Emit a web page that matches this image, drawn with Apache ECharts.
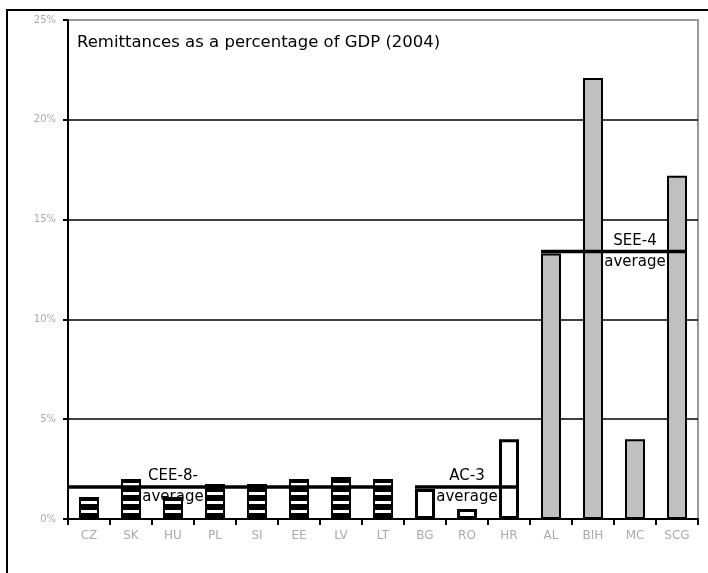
<!DOCTYPE html>
<html>
<head>
<meta charset="utf-8">
<title>Remittances as a percentage of GDP (2004)</title>
<script src="https://cdn.jsdelivr.net/npm/echarts@6/dist/echarts.min.js"></script>
<style>
  html, body { margin: 0; padding: 0; background: #fff; }
  #chart { width: 708px; height: 573px; }
</style>
</head>
<body>
<div id="chart"></div>
<script>
// Countries on the category axis
const categories = ['CZ', 'SK', 'HU', 'PL', 'SI', 'EE', 'LV', 'LT', 'BG', 'RO', 'HR', 'AL', 'BIH', 'MC', 'SCG'];
// Remittances, % of GDP (2004)
const remittances = [1.1, 2.0, 1.1, 1.75, 1.75, 2.0, 2.1, 2.0, 1.5, 0.5, 4.0, 13.3, 22.1, 4.0, 17.2];
// Country group of each category
const countryGroup = ['CEE-8', 'CEE-8', 'CEE-8', 'CEE-8', 'CEE-8', 'CEE-8', 'CEE-8', 'CEE-8',
                      'AC-3', 'AC-3', 'AC-3',
                      'SEE-4', 'SEE-4', 'SEE-4', 'SEE-4'];
// Group averages and the category each label sits over
const groupNames = ['CEE-8', 'AC-3', 'SEE-4'];
const groupAverages = [1.6, 1.6, 13.4];
const groupLabels = ['CEE-8-\naverage', 'AC-3\naverage', 'SEE-4\naverage'];
const groupLabelAt = ['HU', 'RO', 'MC'];
// Value axis ticks (%)
const yTicks = [0, 5, 10, 15, 20, 25];

// Horizontal stripe fill for the CEE-8 bars
function stripePattern() {
  const c = document.createElement('canvas');
  c.width = 4; c.height = 9;
  const ctx = c.getContext('2d');
  ctx.fillStyle = '#000';
  ctx.fillRect(0, 0, 4, 9);
  ctx.fillStyle = '#fff';
  ctx.fillRect(0, 6, 4, 3);
  return c;
}

const groupStyles = {
  'CEE-8': { color: { image: stripePattern(), repeat: 'repeat' }, borderColor: '#000', borderWidth: 2 },
  'AC-3':  { color: '#fff', borderColor: '#000', borderWidth: 3 },
  'SEE-4': { color: '#c0c0c0', borderColor: '#000', borderWidth: 2 }
};

const barData = remittances.map((v, i) => ({ value: v, itemStyle: groupStyles[countryGroup[i]] }));

// Average line spans: first/last category index of each group
const spans = groupNames.map(g => [countryGroup.indexOf(g), countryGroup.lastIndexOf(g)]);
const lineData = groupNames.map((g, k) => [spans[k][0], groupAverages[k], spans[k][1], k === 0 ? 1 : 0]);
const labelData = groupNames.map((g, k) => [categories.indexOf(groupLabelAt[k]), groupAverages[k], k]);

const BAR_W = 20;

const chart = echarts.init(document.getElementById('chart'), null, { renderer: 'canvas' });

chart.setOption({
  animation: false,
  backgroundColor: '#fff',
  title: {
    text: 'Remittances as a percentage of GDP (2004)',
    left: 77,
    top: 34,
    padding: 0,
    textStyle: { fontFamily: 'DejaVu Sans', fontSize: 16.5, fontWeight: 'normal', color: '#000' }
  },
  graphic: [
    { type: 'line', shape: { x1: 6, y1: 10, x2: 708, y2: 10 }, style: { stroke: '#000', lineWidth: 2 }, z: 10 },
    { type: 'line', shape: { x1: 7, y1: 10, x2: 7, y2: 573 }, style: { stroke: '#000', lineWidth: 2 }, z: 10 }
  ],
  grid: {
    left: 68, right: 10, top: 20, bottom: 54,
    show: true, borderColor: '#999', borderWidth: 2, backgroundColor: 'transparent'
  },
  xAxis: {
    type: 'category',
    data: categories,
    boundaryGap: true,
    axisLine: { lineStyle: { color: '#000', width: 2 } },
    axisTick: { show: true, length: 6, inside: false, lineStyle: { color: '#000', width: 2 } },
    axisLabel: { color: '#aaa', fontFamily: 'DejaVu Sans', fontSize: 12, margin: 11 },
    splitLine: { show: false }
  },
  yAxis: {
    type: 'value',
    min: yTicks[0],
    max: yTicks[yTicks.length - 1],
    interval: yTicks[1] - yTicks[0],
    axisLine: { show: true, lineStyle: { color: '#000', width: 2 } },
    axisTick: { show: true, length: 5, lineStyle: { color: '#000', width: 2 } },
    axisLabel: { color: '#aaa', fontFamily: 'DejaVu Sans', fontSize: 10, margin: 12, formatter: '{value}%' },
    splitLine: { show: true, lineStyle: { color: ['#000', '#000', '#000', '#000', '#000', '#999'], width: 1.6 } }
  },
  series: [
    {
      // Group labels, drawn beneath the bars
      type: 'custom',
      z: 1,
      data: labelData,
      encode: { x: 0, y: 1 },
      renderItem: function (params, api) {
        const p = api.coord([api.value(0), api.value(1)]);
        return {
          type: 'text',
          x: p[0],
          y: p[1],
          style: {
            text: groupLabels[api.value(2)],
            align: 'center',
            verticalAlign: 'middle',
            fontFamily: 'DejaVu Sans',
            fontSize: 15,
            lineHeight: 21,
            fill: '#000'
          }
        };
      }
    },
    {
      type: 'bar',
      z: 2,
      barWidth: BAR_W,
      data: barData
    },
    {
      // Group average lines, drawn over the bars
      type: 'custom',
      z: 3,
      data: lineData,
      encode: { x: [0, 2], y: 1 },
      renderItem: function (params, api) {
        const a = api.coord([api.value(0), api.value(1)]);
        const b = api.coord([api.value(2), api.value(1)]);
        const band = api.size([1, 0])[0];
        const half = BAR_W / 2;
        const x1 = api.value(3) ? a[0] - band / 2 : a[0] - half;
        const x2 = b[0] + half;
        return {
          type: 'line',
          shape: { x1: x1, y1: a[1], x2: x2, y2: b[1] },
          style: { stroke: '#000', lineWidth: 3.5 }
        };
      }
    }
  ]
});
</script>
</body>
</html>
